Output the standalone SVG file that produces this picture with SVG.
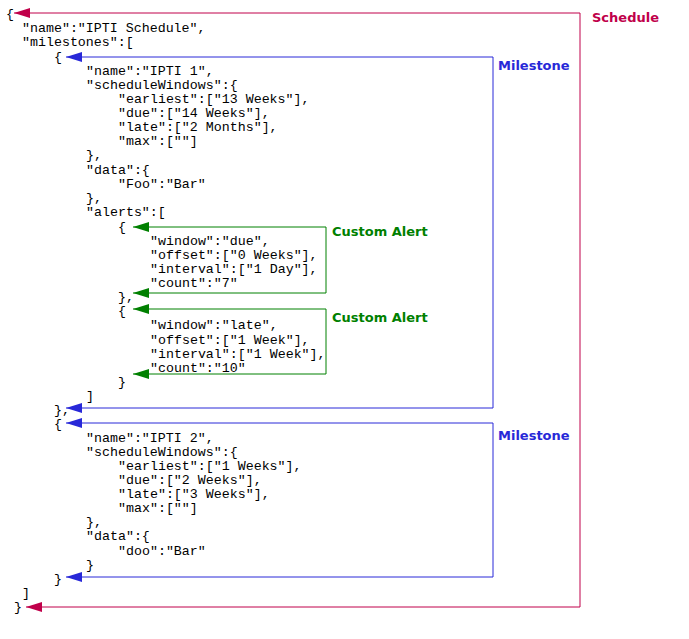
<svg xmlns="http://www.w3.org/2000/svg" width="689" height="639" viewBox="0 0 689 639">
<style>
text.c{font-family:"Liberation Mono",monospace;font-size:13.3px;fill:#000}
text.l{font-family:"DejaVu Sans","Liberation Sans",sans-serif;font-size:13px;font-weight:bold}
.r{stroke:#c0004a;fill:none;stroke-width:1}
.b{stroke:#2828d8;fill:none;stroke-width:1}
.g{stroke:#008000;fill:none;stroke-width:1}
</style>
<defs>
<marker id="mr" markerWidth="16" markerHeight="10" refX="0" refY="5" orient="0" markerUnits="userSpaceOnUse"><path d="M0,5 L16,0 L16,10 Z" fill="#c0004a"/></marker>
<marker id="mb" markerWidth="16" markerHeight="10" refX="0" refY="5" orient="0" markerUnits="userSpaceOnUse"><path d="M0,5 L16,0 L16,10 Z" fill="#2828d8"/></marker>
<marker id="mg" markerWidth="16" markerHeight="10" refX="0" refY="5" orient="0" markerUnits="userSpaceOnUse"><path d="M0,5 L16,0 L16,10 Z" fill="#008000"/></marker>
</defs>
<rect width="689" height="639" fill="#fff"/>
<g id="code">
<text class="c" x="6" y="18">{</text>
<text class="c" x="22" y="32">"name":"IPTI Schedule",</text>
<text class="c" x="22" y="46">"milestones":[</text>
<text class="c" x="54" y="61">{</text>
<text class="c" x="86" y="75">"name":"IPTI 1",</text>
<text class="c" x="86" y="89">"scheduleWindows":{</text>
<text class="c" x="118" y="103">"earliest":["13 Weeks"],</text>
<text class="c" x="118" y="117">"due":["14 Weeks"],</text>
<text class="c" x="118" y="131">"late":["2 Months"],</text>
<text class="c" x="118" y="145">"max":[""]</text>
<text class="c" x="86" y="159">},</text>
<text class="c" x="86" y="174">"data":{</text>
<text class="c" x="118" y="188">"Foo":"Bar"</text>
<text class="c" x="86" y="202">},</text>
<text class="c" x="86" y="216">"alerts":[</text>
<text class="c" x="118" y="231">{</text>
<text class="c" x="150" y="245">"window":"due",</text>
<text class="c" x="150" y="259">"offset":["0 Weeks"],</text>
<text class="c" x="150" y="273">"interval":["1 Day"],</text>
<text class="c" x="150" y="287">"count":"7"</text>
<text class="c" x="118" y="301">},</text>
<text class="c" x="118" y="315">{</text>
<text class="c" x="150" y="329">"window":"late",</text>
<text class="c" x="150" y="344">"offset":["1 Week"],</text>
<text class="c" x="150" y="358">"interval":["1 Week"],</text>
<text class="c" x="150" y="372">"count":"10"</text>
<text class="c" x="118" y="386">}</text>
<text class="c" x="86" y="400">]</text>
<text class="c" x="54" y="414">},</text>
<text class="c" x="54" y="428">{</text>
<text class="c" x="86" y="442">"name":"IPTI 2",</text>
<text class="c" x="86" y="456">"scheduleWindows":{</text>
<text class="c" x="118" y="470">"earliest":["1 Weeks"],</text>
<text class="c" x="118" y="484">"due":["2 Weeks"],</text>
<text class="c" x="118" y="498">"late":["3 Weeks"],</text>
<text class="c" x="118" y="512">"max":[""]</text>
<text class="c" x="86" y="526">},</text>
<text class="c" x="86" y="540">"data":{</text>
<text class="c" x="118" y="555">"doo":"Bar"</text>
<text class="c" x="86" y="569">}</text>
<text class="c" x="54" y="583">}</text>
<text class="c" x="22" y="597">]</text>
<text class="c" x="14" y="611">}</text>
</g>
<g id="connectors">
<polyline class="r" points="14,13 580,13 580,607 26,607" marker-start="url(#mr)" marker-end="url(#mr)"/>
<polyline class="b" points="66,57 493,57 493,408 66,408" marker-start="url(#mb)" marker-end="url(#mb)"/>
<polyline class="b" points="66,423 493,423 493,577 66,577" marker-start="url(#mb)" marker-end="url(#mb)"/>
<polyline class="g" points="133,227 326,227 326,293 133,293" marker-start="url(#mg)" marker-end="url(#mg)"/>
<polyline class="g" points="133,309 326,309 326,374 133,374" marker-start="url(#mg)" marker-end="url(#mg)"/>
</g>
<g id="schedule"><text class="l" x="592" y="22" fill="#c0004a">Schedule</text></g>
<g id="milestone1"><text class="l" x="498" y="70" fill="#2828d8">Milestone</text></g>
<g id="milestone2"><text class="l" x="498" y="440" fill="#2828d8">Milestone</text></g>
<g id="alert1"><text class="l" x="332" y="236" fill="#008000">Custom Alert</text></g>
<g id="alert2"><text class="l" x="332" y="322" fill="#008000">Custom Alert</text></g>
</svg>
